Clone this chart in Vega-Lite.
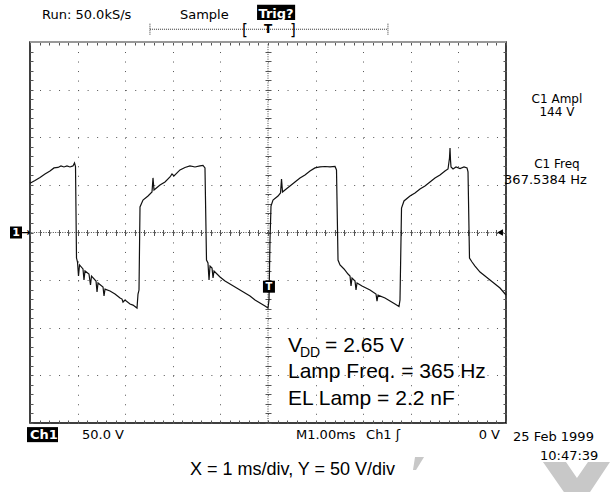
{
"$schema":"https://vega.github.io/schema/vega-lite/v6.json",
"width":476,"height":381,
"autosize":"none",
"padding":{"left":30,"top":42,"right":104,"bottom":69},
"background":"white",
"config":{"view":{"stroke":"#000","strokeWidth":1.5},"font":"DejaVu Sans"},
"resolve":{"axis":{"x":"independent","y":"independent"}},
"data":{"values":[
{"t":0,"v":51.7},{"t":0.105,"v":54.6},{"t":0.21,"v":57.8},{"t":0.315,"v":61.4},{"t":0.42,"v":64.6},{"t":0.504,"v":67.8},{"t":0.588,"v":68.3},{"t":0.651,"v":69.9},{"t":0.714,"v":68.8},{"t":0.777,"v":69.9},{"t":0.84,"v":68.8},{"t":0.903,"v":69.9},{"t":0.935,"v":73.0},{"t":0.956,"v":69.3},
{"t":0.977,"v":-26.8},{"t":0.998,"v":-31.0},{"t":1.019,"v":-45.7},{"t":1.04,"v":-34.1},{"t":1.113,"v":-38.3},{"t":1.134,"v":-49.9},{"t":1.155,"v":-40.4},{"t":1.239,"v":-43.6},{"t":1.271,"v":-55.1},{"t":1.292,"v":-45.7},{"t":1.387,"v":-50.9},{"t":1.408,"v":-62.5},{"t":1.429,"v":-53.0},{"t":1.534,"v":-57.2},{"t":1.555,"v":-66.7},{"t":1.576,"v":-59.4},{"t":1.681,"v":-61.4},{"t":1.786,"v":-64.6},{"t":1.891,"v":-68.8},{"t":1.933,"v":-69.9},{"t":1.954,"v":-73.0},{"t":1.996,"v":-70.9},{"t":2.101,"v":-75.1},{"t":2.164,"v":-76.2},{"t":2.248,"v":-79.3},
{"t":2.269,"v":-64.6},{"t":2.29,"v":-60.4},{"t":2.311,"v":26.8},{"t":2.374,"v":34.1},{"t":2.479,"v":38.3},{"t":2.563,"v":42.5},{"t":2.584,"v":57.3},{"t":2.605,"v":44.6},{"t":2.731,"v":49.9},{"t":2.836,"v":53.0},{"t":2.941,"v":58.3},{"t":2.983,"v":61.4},{"t":3.025,"v":59.3},{"t":3.151,"v":65.7},{"t":3.256,"v":68.3},{"t":3.361,"v":69.9},{"t":3.466,"v":68.8},{"t":3.571,"v":69.9},{"t":3.634,"v":70.4},{"t":3.676,"v":67.8},
{"t":3.708,"v":-28.9},{"t":3.739,"v":-32.0},{"t":3.761,"v":-49.9},{"t":3.782,"v":-35.2},{"t":3.824,"v":-37.3},{"t":3.845,"v":-47.8},{"t":3.866,"v":-40.4},{"t":3.992,"v":-46.7},{"t":4.097,"v":-50.9},{"t":4.202,"v":-54.1},{"t":4.307,"v":-57.2},{"t":4.412,"v":-60.4},{"t":4.517,"v":-63.5},{"t":4.622,"v":-66.7},{"t":4.727,"v":-70.9},{"t":4.832,"v":-74.1},{"t":4.937,"v":-77.2},{"t":5.0,"v":-79.3},
{"t":5.021,"v":-70.9},{"t":5.042,"v":-7.9},{"t":5.063,"v":27.8},{"t":5.105,"v":34.1},{"t":5.21,"v":38.3},{"t":5.263,"v":41.5},{"t":5.284,"v":56.2},{"t":5.305,"v":42.5},{"t":5.357,"v":44.6},{"t":5.462,"v":48.8},{"t":5.567,"v":53.0},{"t":5.672,"v":57.2},{"t":5.777,"v":60.4},{"t":5.882,"v":64.6},{"t":5.987,"v":67.8},{"t":6.092,"v":68.8},{"t":6.197,"v":69.3},{"t":6.303,"v":68.8},{"t":6.408,"v":69.3},{"t":6.439,"v":65.7},
{"t":6.471,"v":-28.9},{"t":6.513,"v":-34.1},{"t":6.597,"v":-38.3},{"t":6.681,"v":-43.6},{"t":6.723,"v":-45.7},{"t":6.744,"v":-56.2},{"t":6.765,"v":-47.8},{"t":6.828,"v":-50.9},{"t":6.849,"v":-60.4},{"t":6.87,"v":-53.0},{"t":6.975,"v":-56.2},{"t":7.059,"v":-58.3},{"t":7.143,"v":-60.4},{"t":7.269,"v":-64.6},{"t":7.29,"v":-72.0},{"t":7.311,"v":-65.7},{"t":7.458,"v":-68.8},{"t":7.563,"v":-72.0},{"t":7.668,"v":-75.1},{"t":7.752,"v":-77.7},
{"t":7.773,"v":-70.9},{"t":7.805,"v":25.7},{"t":7.857,"v":33.1},{"t":7.983,"v":38.3},{"t":8.088,"v":41.5},{"t":8.193,"v":45.7},{"t":8.298,"v":48.8},{"t":8.403,"v":53.0},{"t":8.508,"v":57.2},{"t":8.613,"v":60.4},{"t":8.718,"v":64.6},{"t":8.782,"v":66.7},{"t":8.813,"v":78.2},{"t":8.824,"v":88.8},{"t":8.834,"v":76.2},{"t":8.845,"v":68.8},{"t":8.887,"v":66.7},{"t":8.95,"v":68.8},{"t":9.034,"v":67.2},{"t":9.118,"v":68.8},{"t":9.181,"v":67.8},{"t":9.202,"v":63.6},
{"t":9.233,"v":-26.8},{"t":9.286,"v":-31.0},{"t":9.349,"v":-35.2},{"t":9.454,"v":-41.5},{"t":9.559,"v":-45.7},{"t":9.664,"v":-49.9},{"t":9.769,"v":-54.1},{"t":9.874,"v":-58.3},{"t":10.0,"v":-65.6}
]},
"layer":[
{"mark":{"type":"rule","color":"#444","strokeDash":[1,1.38],"strokeWidth":1},"data":{"values":[{}]},"encoding":{"y":{"datum":0,"scale":{"domain":[-200,200],"nice":false,"zero":false},"axis":null}}},
{"mark":{"type":"rule","color":"#444","strokeDash":[1,1.38],"strokeWidth":1},"data":{"values":[{}]},"encoding":{"x":{"datum":5,"scale":{"domain":[0,10],"nice":false,"zero":false},"axis":null}}},
{"mark":{"type":"line","color":"#111","strokeWidth":1.2,"interpolate":"linear"},
 "encoding":{
  "x":{"field":"t","type":"quantitative","scale":{"domain":[0,10],"nice":false,"zero":false},"axis":{"values":[0,1,2,3,4,5,6,7,8,9,10],"grid":true,"gridDash":[1,8.52],"gridColor":"#555","gridWidth":1,"ticks":false,"labels":false,"domain":false,"title":null}},
  "y":{"field":"v","type":"quantitative","scale":{"domain":[-200,200],"nice":false,"zero":false},"axis":{"values":[-200,-150,-100,-50,0,50,100,150,200],"grid":true,"gridDash":[1,8.52],"gridColor":"#555","gridWidth":1,"ticks":false,"labels":false,"domain":false,"title":null}}}},
{"mark":{"type":"line","strokeOpacity":0},
 "encoding":{
  "x":{"field":"t","type":"quantitative","scale":{"domain":[0,10],"nice":false,"zero":false},"axis":{"orient":"bottom","offset":-3,"tickSize":3,"tickColor":"#555","values":[0,0.2,0.4,0.6,0.8,1,1.2,1.4,1.6,1.8,2,2.2,2.4,2.6,2.8,3,3.2,3.4,3.6,3.8,4,4.2,4.4,4.6,4.8,5,5.2,5.4,5.6,5.8,6,6.2,6.4,6.6,6.8,7,7.2,7.4,7.6,7.8,8,8.2,8.4,8.6,8.8,9,9.2,9.4,9.6,9.8,10],"grid":false,"labels":false,"domain":false,"title":null}},
  "y":{"field":"v","type":"quantitative","scale":{"domain":[-200,200],"nice":false,"zero":false},"axis":{"orient":"left","offset":-3,"tickSize":3,"tickColor":"#555","values":[-200,-190,-180,-170,-160,-150,-140,-130,-120,-110,-100,-90,-80,-70,-60,-50,-40,-30,-20,-10,0,10,20,30,40,50,60,70,80,90,100,110,120,130,140,150,160,170,180,190,200],"grid":false,"labels":false,"domain":false,"title":null}}}},
{"mark":{"type":"line","strokeOpacity":0},
 "encoding":{
  "x":{"field":"t","type":"quantitative","scale":{"domain":[0,10],"nice":false,"zero":false},"axis":{"orient":"top","offset":-3,"tickSize":3,"tickColor":"#555","values":[0,0.2,0.4,0.6,0.8,1,1.2,1.4,1.6,1.8,2,2.2,2.4,2.6,2.8,3,3.2,3.4,3.6,3.8,4,4.2,4.4,4.6,4.8,5,5.2,5.4,5.6,5.8,6,6.2,6.4,6.6,6.8,7,7.2,7.4,7.6,7.8,8,8.2,8.4,8.6,8.8,9,9.2,9.4,9.6,9.8,10],"grid":false,"labels":false,"domain":false,"title":null}},
  "y":{"field":"v","type":"quantitative","scale":{"domain":[-200,200],"nice":false,"zero":false},"axis":{"orient":"right","offset":-3,"tickSize":3,"tickColor":"#555","values":[-200,-190,-180,-170,-160,-150,-140,-130,-120,-110,-100,-90,-80,-70,-60,-50,-40,-30,-20,-10,0,10,20,30,40,50,60,70,80,90,100,110,120,130,140,150,160,170,180,190,200],"grid":false,"labels":false,"domain":false,"title":null}}}},
{"mark":{"type":"line","strokeOpacity":0},
 "encoding":{
  "x":{"field":"t","type":"quantitative","scale":{"domain":[0,10],"nice":false,"zero":false},"axis":{"orient":"bottom","offset":-193.5,"tickSize":6,"tickColor":"#555","values":[0,0.2,0.4,0.6,0.8,1,1.2,1.4,1.6,1.8,2,2.2,2.4,2.6,2.8,3,3.2,3.4,3.6,3.8,4,4.2,4.4,4.6,4.8,5,5.2,5.4,5.6,5.8,6,6.2,6.4,6.6,6.8,7,7.2,7.4,7.6,7.8,8,8.2,8.4,8.6,8.8,9,9.2,9.4,9.6,9.8,10],"grid":false,"labels":false,"domain":false,"title":null}},
  "y":{"field":"v","type":"quantitative","scale":{"domain":[-200,200],"nice":false,"zero":false},"axis":{"orient":"left","offset":-241,"tickSize":6,"tickColor":"#555","values":[-200,-190,-180,-170,-160,-150,-140,-130,-120,-110,-100,-90,-80,-70,-60,-50,-40,-30,-20,-10,0,10,20,30,40,50,60,70,80,90,100,110,120,130,140,150,160,170,180,190,200],"grid":false,"labels":false,"domain":false,"title":null}}}},
{"data":{"values":[{}]},"mark":{"type":"rule","color":"#999","strokeWidth":2},"encoding":{"y":{"datum":200,"scale":{"domain":[-200,200],"nice":false,"zero":false},"axis":null}}},
{"data":{"values":[{"label":"Run: 50.0kS/s"}]},"mark":{"type":"text","align":"left","baseline":"alphabetic","font":"DejaVu Sans","fontSize":13,"color":"#000"},"encoding":{"x":{"datum":0.252,"scale":{"domain":[0,10],"nice":false,"zero":false},"axis":null},"y":{"datum":224.3,"scale":{"domain":[-200,200],"nice":false,"zero":false},"axis":null},"text":{"field":"label"}}},
{"data":{"values":[{"label":"Sample"}]},"mark":{"type":"text","align":"left","baseline":"alphabetic","font":"DejaVu Sans","fontSize":13,"color":"#000"},"encoding":{"x":{"datum":3.151,"scale":{"domain":[0,10],"nice":false,"zero":false},"axis":null},"y":{"datum":224.3,"scale":{"domain":[-200,200],"nice":false,"zero":false},"axis":null},"text":{"field":"label"}}},
{"data":{"values":[{}]},"mark":{"type":"rect","color":"#000"},"encoding":{"x":{"datum":4.77,"scale":{"domain":[0,10],"nice":false,"zero":false},"axis":null},"x2":{"datum":5.57},"y":{"datum":239,"scale":{"domain":[-200,200],"nice":false,"zero":false},"axis":null},"y2":{"datum":223.2}}},
{"data":{"values":[{"label":"Trig?"}]},"mark":{"type":"text","align":"left","baseline":"alphabetic","font":"DejaVu Sans","fontSize":13,"fontWeight":"bold","color":"#fff"},"encoding":{"x":{"datum":4.8,"scale":{"domain":[0,10],"nice":false,"zero":false},"axis":null},"y":{"datum":225.3,"scale":{"domain":[-200,200],"nice":false,"zero":false},"axis":null},"text":{"field":"label"}}},
{"data":{"values":[{}]},"mark":{"type":"rule","color":"#333","strokeDash":[1,1]},"encoding":{"x":{"datum":2.52,"scale":{"domain":[0,10],"nice":false,"zero":false},"axis":null},"x2":{"datum":7.52},"y":{"datum":213.4,"scale":{"domain":[-200,200],"nice":false,"zero":false},"axis":null}}},
{"data":{"values":[{}]},"mark":{"type":"rule","color":"#333","strokeDash":[1,1]},"encoding":{"x":{"datum":2.52,"scale":{"domain":[0,10],"nice":false,"zero":false},"axis":null},"y":{"datum":219.2,"scale":{"domain":[-200,200],"nice":false,"zero":false},"axis":null},"y2":{"datum":207.7}}},
{"data":{"values":[{}]},"mark":{"type":"rule","color":"#333","strokeDash":[1,1]},"encoding":{"x":{"datum":7.52,"scale":{"domain":[0,10],"nice":false,"zero":false},"axis":null},"y":{"datum":219.2,"scale":{"domain":[-200,200],"nice":false,"zero":false},"axis":null},"y2":{"datum":207.7}}},
{"data":{"values":[{"label":"["}]},"mark":{"type":"text","align":"center","baseline":"alphabetic","font":"DejaVu Sans","fontSize":15,"color":"#000"},"encoding":{"x":{"datum":4.517,"scale":{"domain":[0,10],"nice":false,"zero":false},"axis":null},"y":{"datum":207,"scale":{"domain":[-200,200],"nice":false,"zero":false},"axis":null},"text":{"field":"label"}}},
{"data":{"values":[{"label":"]"}]},"mark":{"type":"text","align":"center","baseline":"alphabetic","font":"DejaVu Sans","fontSize":15,"color":"#000"},"encoding":{"x":{"datum":5.525,"scale":{"domain":[0,10],"nice":false,"zero":false},"axis":null},"y":{"datum":207,"scale":{"domain":[-200,200],"nice":false,"zero":false},"axis":null},"text":{"field":"label"}}},
{"data":{"values":[{"label":"T"}]},"mark":{"type":"text","align":"center","baseline":"alphabetic","font":"DejaVu Sans","fontSize":12,"fontWeight":"bold","color":"#000"},"encoding":{"x":{"datum":5.0,"scale":{"domain":[0,10],"nice":false,"zero":false},"axis":null},"y":{"datum":209.6,"scale":{"domain":[-200,200],"nice":false,"zero":false},"axis":null},"text":{"field":"label"}}},
{"data":{"values":[{}]},"mark":{"type":"point","shape":"square","filled":true,"size":144,"color":"#000","opacity":1},"encoding":{"x":{"datum":-0.294,"scale":{"domain":[0,10],"nice":false,"zero":false},"axis":null},"y":{"datum":0,"scale":{"domain":[-200,200],"nice":false,"zero":false},"axis":null}}},
{"data":{"values":[{"label":"1"}]},"mark":{"type":"text","align":"center","baseline":"middle","font":"DejaVu Sans","fontSize":11,"fontWeight":"bold","color":"#fff"},"encoding":{"x":{"datum":-0.294,"scale":{"domain":[0,10],"nice":false,"zero":false},"axis":null},"y":{"datum":0,"scale":{"domain":[-200,200],"nice":false,"zero":false},"axis":null},"text":{"field":"label"}}},
{"data":{"values":[{"label":"→"}]},"mark":{"type":"text","align":"center","baseline":"middle","font":"DejaVu Sans","fontSize":11,"fontWeight":"bold","color":"#000"},"encoding":{"x":{"datum":-0.09,"scale":{"domain":[0,10],"nice":false,"zero":false},"axis":null},"y":{"datum":0,"scale":{"domain":[-200,200],"nice":false,"zero":false},"axis":null},"text":{"field":"label"}}},
{"data":{"values":[{}]},"mark":{"type":"point","shape":"triangle-left","filled":true,"size":45,"color":"#000","opacity":1},"encoding":{"x":{"datum":9.874,"scale":{"domain":[0,10],"nice":false,"zero":false},"axis":null},"y":{"datum":0,"scale":{"domain":[-200,200],"nice":false,"zero":false},"axis":null}}},
{"data":{"values":[{}]},"mark":{"type":"point","shape":"square","filled":true,"size":144,"color":"#000","opacity":1},"encoding":{"x":{"datum":5.02,"scale":{"domain":[0,10],"nice":false,"zero":false},"axis":null},"y":{"datum":-56.9,"scale":{"domain":[-200,200],"nice":false,"zero":false},"axis":null}}},
{"data":{"values":[{"label":"T"}]},"mark":{"type":"text","align":"center","baseline":"middle","font":"DejaVu Sans","fontSize":10,"fontWeight":"bold","color":"#fff"},"encoding":{"x":{"datum":5.02,"scale":{"domain":[0,10],"nice":false,"zero":false},"axis":null},"y":{"datum":-56.9,"scale":{"domain":[-200,200],"nice":false,"zero":false},"axis":null},"text":{"field":"label"}}},
{"data":{"values":[{"label":"C1 Ampl"}]},"mark":{"type":"text","align":"center","baseline":"alphabetic","font":"DejaVu Sans","fontSize":12,"color":"#000"},"encoding":{"x":{"datum":11.07,"scale":{"domain":[0,10],"nice":false,"zero":false},"axis":null},"y":{"datum":135.5,"scale":{"domain":[-200,200],"nice":false,"zero":false},"axis":null},"text":{"field":"label"}}},
{"data":{"values":[{"label":"144 V"}]},"mark":{"type":"text","align":"center","baseline":"alphabetic","font":"DejaVu Sans","fontSize":12,"color":"#000"},"encoding":{"x":{"datum":11.07,"scale":{"domain":[0,10],"nice":false,"zero":false},"axis":null},"y":{"datum":121.9,"scale":{"domain":[-200,200],"nice":false,"zero":false},"axis":null},"text":{"field":"label"}}},
{"data":{"values":[{"label":"C1 Freq"}]},"mark":{"type":"text","align":"center","baseline":"alphabetic","font":"DejaVu Sans","fontSize":12,"color":"#000"},"encoding":{"x":{"datum":11.07,"scale":{"domain":[0,10],"nice":false,"zero":false},"axis":null},"y":{"datum":67.5,"scale":{"domain":[-200,200],"nice":false,"zero":false},"axis":null},"text":{"field":"label"}}},
{"data":{"values":[{"label":"367.5384 Hz"}]},"mark":{"type":"text","align":"left","baseline":"alphabetic","font":"DejaVu Sans","fontSize":13,"color":"#000"},"encoding":{"x":{"datum":9.96,"scale":{"domain":[0,10],"nice":false,"zero":false},"axis":null},"y":{"datum":50.5,"scale":{"domain":[-200,200],"nice":false,"zero":false},"axis":null},"text":{"field":"label"}}},
{"data":{"values":[{}]},"mark":{"type":"rect","color":"#000"},"encoding":{"x":{"datum":-0.063,"scale":{"domain":[0,10],"nice":false,"zero":false},"axis":null},"x2":{"datum":0.588},"y":{"datum":-204.3,"scale":{"domain":[-200,200],"nice":false,"zero":false},"axis":null},"y2":{"datum":-220.1}}},
{"data":{"values":[{"label":"Ch1"}]},"mark":{"type":"text","align":"left","baseline":"alphabetic","font":"DejaVu Sans","fontSize":13,"fontWeight":"bold","color":"#fff"},"encoding":{"x":{"datum":0.0,"scale":{"domain":[0,10],"nice":false,"zero":false},"axis":null},"y":{"datum":-216.9,"scale":{"domain":[-200,200],"nice":false,"zero":false},"axis":null},"text":{"field":"label"}}},
{"data":{"values":[{"label":"50.0 V"}]},"mark":{"type":"text","align":"left","baseline":"alphabetic","font":"DejaVu Sans","fontSize":13,"color":"#000"},"encoding":{"x":{"datum":1.092,"scale":{"domain":[0,10],"nice":false,"zero":false},"axis":null},"y":{"datum":-216.9,"scale":{"domain":[-200,200],"nice":false,"zero":false},"axis":null},"text":{"field":"label"}}},
{"data":{"values":[{"label":"M1.00ms"}]},"mark":{"type":"text","align":"left","baseline":"alphabetic","font":"DejaVu Sans","fontSize":13,"color":"#000"},"encoding":{"x":{"datum":5.588,"scale":{"domain":[0,10],"nice":false,"zero":false},"axis":null},"y":{"datum":-216.9,"scale":{"domain":[-200,200],"nice":false,"zero":false},"axis":null},"text":{"field":"label"}}},
{"data":{"values":[{"label":"Ch1 ʃ"}]},"mark":{"type":"text","align":"left","baseline":"alphabetic","font":"DejaVu Sans","fontSize":13,"color":"#000"},"encoding":{"x":{"datum":7.06,"scale":{"domain":[0,10],"nice":false,"zero":false},"axis":null},"y":{"datum":-216.9,"scale":{"domain":[-200,200],"nice":false,"zero":false},"axis":null},"text":{"field":"label"}}},
{"data":{"values":[{"label":"0 V"}]},"mark":{"type":"text","align":"right","baseline":"alphabetic","font":"DejaVu Sans","fontSize":13,"color":"#000"},"encoding":{"x":{"datum":9.874,"scale":{"domain":[0,10],"nice":false,"zero":false},"axis":null},"y":{"datum":-216.9,"scale":{"domain":[-200,200],"nice":false,"zero":false},"axis":null},"text":{"field":"label"}}},
{"data":{"values":[{"label":"25 Feb 1999"}]},"mark":{"type":"text","align":"left","baseline":"alphabetic","font":"DejaVu Sans","fontSize":13,"color":"#000"},"encoding":{"x":{"datum":10.147,"scale":{"domain":[0,10],"nice":false,"zero":false},"axis":null},"y":{"datum":-219,"scale":{"domain":[-200,200],"nice":false,"zero":false},"axis":null},"text":{"field":"label"}}},
{"data":{"values":[{"label":"10:47:39"}]},"mark":{"type":"text","align":"left","baseline":"alphabetic","font":"DejaVu Sans","fontSize":13,"color":"#000"},"encoding":{"x":{"datum":10.714,"scale":{"domain":[0,10],"nice":false,"zero":false},"axis":null},"y":{"datum":-239,"scale":{"domain":[-200,200],"nice":false,"zero":false},"axis":null},"text":{"field":"label"}}},
{"data":{"values":[{"label":"X = 1 ms/div, Y = 50 V/div"}]},"mark":{"type":"text","align":"center","baseline":"alphabetic","font":"Liberation Sans","fontSize":18,"color":"#000"},"encoding":{"x":{"datum":5.515,"scale":{"domain":[0,10],"nice":false,"zero":false},"axis":null},"y":{"datum":-254.7,"scale":{"domain":[-200,200],"nice":false,"zero":false},"axis":null},"text":{"field":"label"}}},
{"data":{"values":[{"label":"V"}]},"mark":{"type":"text","align":"left","baseline":"alphabetic","font":"Liberation Sans","fontSize":21,"color":"#000"},"encoding":{"x":{"datum":5.42,"scale":{"domain":[0,10],"nice":false,"zero":false},"axis":null},"y":{"datum":-125.5,"scale":{"domain":[-200,200],"nice":false,"zero":false},"axis":null},"text":{"field":"label"}}},
{"data":{"values":[{"label":"DD"}]},"mark":{"type":"text","align":"left","baseline":"alphabetic","font":"Liberation Sans","fontSize":14,"color":"#000"},"encoding":{"x":{"datum":5.67,"scale":{"domain":[0,10],"nice":false,"zero":false},"axis":null},"y":{"datum":-130.8,"scale":{"domain":[-200,200],"nice":false,"zero":false},"axis":null},"text":{"field":"label"}}},
{"data":{"values":[{"label":"= 2.65 V"}]},"mark":{"type":"text","align":"left","baseline":"alphabetic","font":"Liberation Sans","fontSize":21,"color":"#000"},"encoding":{"x":{"datum":6.2,"scale":{"domain":[0,10],"nice":false,"zero":false},"axis":null},"y":{"datum":-125.5,"scale":{"domain":[-200,200],"nice":false,"zero":false},"axis":null},"text":{"field":"label"}}},
{"data":{"values":[{"label":"Lamp Freq. = 365 Hz"}]},"mark":{"type":"text","align":"left","baseline":"alphabetic","font":"Liberation Sans","fontSize":21,"color":"#000"},"encoding":{"x":{"datum":5.42,"scale":{"domain":[0,10],"nice":false,"zero":false},"axis":null},"y":{"datum":-152.8,"scale":{"domain":[-200,200],"nice":false,"zero":false},"axis":null},"text":{"field":"label"}}},
{"data":{"values":[{"label":"EL Lamp = 2.2 nF"}]},"mark":{"type":"text","align":"left","baseline":"alphabetic","font":"Liberation Sans","fontSize":21,"color":"#000"},"encoding":{"x":{"datum":5.42,"scale":{"domain":[0,10],"nice":false,"zero":false},"axis":null},"y":{"datum":-181.2,"scale":{"domain":[-200,200],"nice":false,"zero":false},"axis":null},"text":{"field":"label"}}},
{"data":{"values":[{}]},"mark":{"type":"point","shape":"M-0.54,-1L0.85,-1L-0.38,1L-0.85,1Z","filled":true,"size":169,"color":"#c8c8c8","opacity":1,"strokeWidth":0},"encoding":{"x":{"datum":8.162,"scale":{"domain":[0,10],"nice":false,"zero":false},"axis":null},"y":{"datum":-242.6,"scale":{"domain":[-200,200],"nice":false,"zero":false},"axis":null}}},
{"data":{"values":[{}]},"mark":{"type":"point","shape":"M-0.868,-0.395L-0.263,-0.395L0.026,0.026L0.316,-0.395L0.895,-0.395L0.368,0.395L-0.316,0.395Z","filled":true,"size":5776,"color":"#c8c8c8","opacity":1,"strokeWidth":0},"encoding":{"x":{"datum":11.47,"scale":{"domain":[0,10],"nice":false,"zero":false},"axis":null},"y":{"datum":-256.8,"scale":{"domain":[-200,200],"nice":false,"zero":false},"axis":null}}}
]
}
